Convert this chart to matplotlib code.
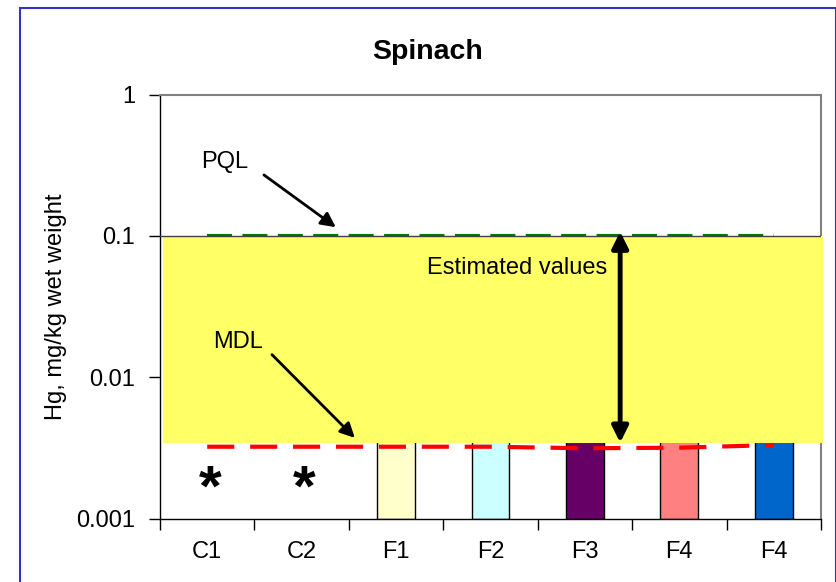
"""
Spinach Hg concentrations vs PQL / MDL, log scale bar chart.
"""

import numpy as np
import matplotlib
matplotlib.use("Agg")
import matplotlib.pyplot as plt
from matplotlib.patches import Rectangle
from matplotlib.ticker import FixedLocator, NullLocator

plt.rcParams['font.family'] = ['Liberation Sans', 'DejaVu Sans']

# data
categories = ['C1', 'C2', 'F1', 'F2', 'F3', 'F4', 'F4']
# C1/C2 not detected (asterisks); bar tops are hidden behind the estimate band
hg_values = [np.nan, np.nan, 0.0045, 0.005, 0.006, 0.0055, 0.007]
bar_colors = ['white', 'white', '#FFFFCC', '#CCFFFF', '#660066', '#FF8080', '#0066CC']
mdl = [0.00322, 0.00322, 0.00322, 0.00322, 0.00314, 0.00317, 0.00331]
pql = [0.1] * 7
band_low, band_high = 0.00344, 0.1
nd_marker_y = 0.00158

fig = plt.figure(figsize=(8.37, 5.82), dpi=100)
ax = fig.add_axes([160 / 837, 1 - 518.5 / 582, (821 - 160) / 837, (518.5 - 94.5) / 582])

x = np.arange(len(categories))

# bars
ax.bar(x, hg_values, width=0.4, bottom=0.001, color=bar_colors,
       edgecolor='black', linewidth=1.0, zorder=2)

# MDL line
ax.plot(x, mdl, color='#FF0000', lw=3, dashes=(6.5, 3.8), zorder=3)

# PQL line (mostly hidden under frame / band)
ax.plot(x, pql, color='#007A00', lw=3, dashes=(6, 2.5), zorder=2)

# estimated-values band
band = Rectangle((-0.47, band_low), 6.99, band_high - band_low,
                 facecolor='#FFFF66', edgecolor='none', zorder=4, clip_on=False)
ax.add_patch(band)

ax.axhline(0.1, color='#404040', lw=1.0, zorder=5)

# not detected markers
for xi in (0, 1):
    ax.text(xi + 0.03, nd_marker_y, '*', fontsize=42, fontweight='bold',
            ha='center', va='center', zorder=6)

# annotations
ax.annotate('', xy=(1.386, 0.112), xytext=(0.577, 0.277),
            arrowprops=dict(arrowstyle='-|>', color='black', lw=2, mutation_scale=22),
            zorder=6)
ax.text(0.19, 0.335, 'PQL', fontsize=17, ha='center', va='center', zorder=6)

ax.annotate('', xy=(1.584, 0.0036), xytext=(0.665, 0.0149),
            arrowprops=dict(arrowstyle='-|>', color='black', lw=2, mutation_scale=22),
            zorder=6)
ax.text(0.326, 0.0178, 'MDL', fontsize=17, ha='center', va='center', zorder=6)

ax.annotate('', xy=(4.373, 0.00344), xytext=(4.373, 0.107),
            arrowprops=dict(arrowstyle='<|-|>', color='black', lw=3.5, mutation_scale=24,
                            shrinkA=0, shrinkB=0),
            zorder=6)
ax.text(3.28, 0.0593, 'Estimated values', fontsize=17, ha='center', va='center', zorder=6)

# axes
ax.set_yscale('log')
ax.set_ylim(0.001, 1)
ax.set_xlim(-0.5, len(categories) - 0.5)
ax.yaxis.set_major_locator(FixedLocator([0.001, 0.01, 0.1, 1]))
ax.yaxis.set_minor_locator(NullLocator())
ax.set_yticklabels(['0.001', '0.01', '0.1', '1'])
ax.set_xticks(x)
ax.set_xticklabels(categories)
ax.set_xticks(np.arange(len(categories) + 1) - 0.5, minor=True)
ax.tick_params(axis='x', which='major', length=0, pad=16, labelsize=17)
ax.tick_params(axis='x', which='minor', length=8, width=1, direction='out')
ax.tick_params(axis='y', which='major', length=8, width=1, direction='out', pad=10, labelsize=17)

for side in ('top', 'right'):
    ax.spines[side].set_color('#808080')
    ax.spines[side].set_linewidth(1.5)
for side in ('left', 'bottom'):
    ax.spines[side].set_color('black')
    ax.spines[side].set_linewidth(1.0)

ax.set_ylabel('Hg, mg/kg wet weight', fontsize=17)
ax.yaxis.set_label_coords(-0.141, 0.5)

fig.text(428 / 837, 1 - 52 / 582, 'Spinach', fontsize=20.5, fontweight='bold',
         ha='center', va='center')

# chart frame
fig.add_artist(Rectangle((20 / 837, -0.05), (836 - 20) / 837, 1 - 8.3 / 582 + 0.05,
                         transform=fig.transFigure, facecolor='none',
                         edgecolor='#3333CC', lw=1.5))

fig.savefig('out.png', dpi=100)
